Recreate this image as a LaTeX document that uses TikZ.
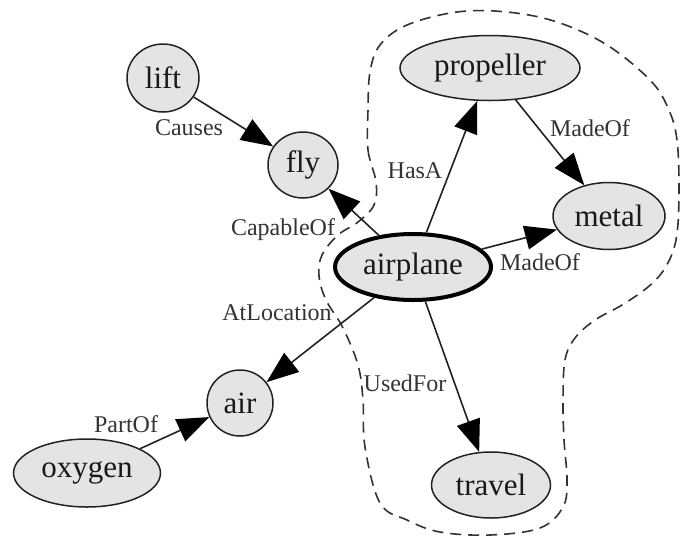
\documentclass[tikz,border=0pt]{standalone}
\usepackage{fontspec}
\setmainfont{Liberation Serif}
\usetikzlibrary{arrows.meta,shapes.geometric}
\definecolor{nodefill}{HTML}{E4E4E4}
\definecolor{edgegray}{HTML}{222222}
\definecolor{labgray}{HTML}{333333}
\tikzset{
  concept/.style={ellipse, draw=edgegray, line width=0.75pt, fill=nodefill, inner sep=0pt,
    font=\fontsize{15.5}{18}\selectfont, text=black!90},
  hub/.style={concept, draw=black, line width=2pt},
  rel/.style={draw=edgegray, line width=0.8pt, -{Triangle[length=16pt,width=12pt,fill=black,color=black]}},
  rellabel/.style={font=\fontsize{12}{14}\selectfont, text=labgray, inner sep=0pt},
  cluster/.style={draw=black!80, line width=0.8pt, dash pattern=on 5.5pt off 3.5pt}
}
\begin{document}
\begin{tikzpicture}[x=0.5pt,y=-0.5pt]
\useasboundingbox (0,0) rectangle (680,542);
% cluster boundary
\draw[cluster] plot[smooth cycle, tension=0.6] coordinates {
(368,110) (368,150) (376,182) (374,205) (358,222) (338,235) (322,255) (319,276)
(326,300) (343,328) (358,365) (363,400) (365,447) (380,503) (407,520) (440,532)
(490,535) (540,528) (563,507) (567,480) (564,440) (563,400) (565,360) (575,338)
(595,320) (622,305) (648,287) (665,268) (676,240) (679,195) (677,140) (668,108)
(650,80) (607,45) (557,22) (507,12) (457,12) (407,25) (380,45) (370,72)};
% nodes
\node[concept, minimum width=36pt, minimum height=34pt] (lift) at (163,78) {lift};
\node[concept, minimum width=35pt, minimum height=33pt] (fly) at (303,165) {fly};
\node[concept, minimum width=90pt, minimum height=32.5pt] (propeller) at (490,68) {propeller};
\node[concept, minimum width=56pt, minimum height=33.5pt] (metal) at (609,216) {metal};
\node[hub, minimum width=78pt, minimum height=33pt] (airplane) at (413,267) {airplane};
\node[concept, minimum width=33pt, minimum height=33pt] (air) at (240,403) {air};
\node[concept, minimum width=73.5pt, minimum height=34pt] (oxygen) at (87,473) {oxygen};
\node[concept, minimum width=59.5pt, minimum height=33pt] (travel) at (491,485) {travel};
% edges
\draw[rel] (lift) -- (fly);
\draw[rel] (airplane) -- (fly);
\draw[rel] (airplane) -- (propeller);
\draw[rel] (propeller) -- (metal);
\draw[rel] (airplane) -- (metal);
\draw[rel] (airplane) -- (air);
\draw[rel] (airplane) -- (travel);
\draw[rel] (oxygen) -- (air);
% labels
\node[rellabel] (lCauses) at (189,128) {Causes};
\node[rellabel] (lCapable) at (283,230) {CapableOf};
\node[rellabel] (lHasA) at (415,171) {HasA};
\node[rellabel] (lMade1) at (590,128) {MadeOf};
\node[rellabel] (lMade2) at (540,262) {MadeOf};
\node[rellabel] (lAtLoc) at (277,313) {AtLocation};
\node[rellabel] (lUsed) at (405,383) {UsedFor};
\node[rellabel] (lPart) at (126,424) {PartOf};
\end{tikzpicture}
\end{document}
